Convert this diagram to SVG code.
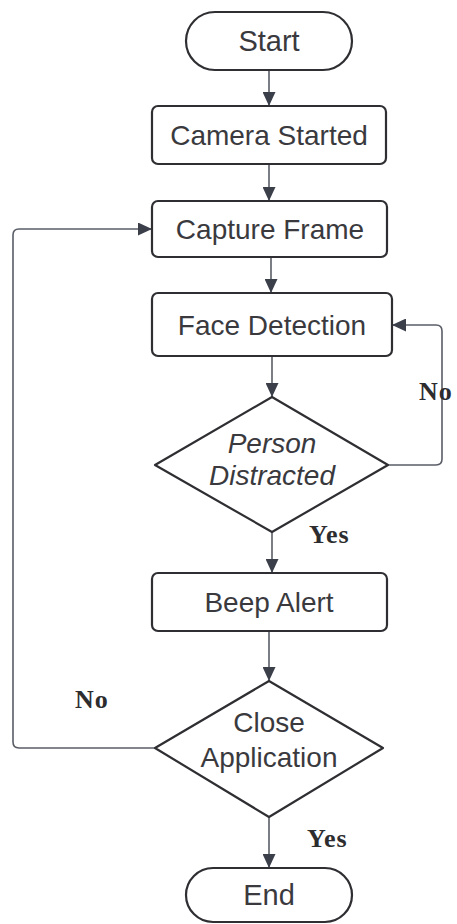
<svg xmlns="http://www.w3.org/2000/svg" width="457" height="924" viewBox="0 0 457 924">
<defs>
<marker id="ah" markerUnits="userSpaceOnUse" markerWidth="14" markerHeight="13" viewBox="0 0 14 13" refX="14" refY="6.5" orient="auto">
<path d="M0,0 L14,6.5 L0,13 Z" fill="#3b3f4a"/>
</marker>
<style>
.box{fill:#fff;stroke:#2f2f33;stroke-width:2.2}
.t{font-family:"Liberation Sans",Arial,sans-serif;font-size:28px;fill:#3a3a3e;text-anchor:middle}
.big{font-size:29px}
.ti{font-style:italic}
.lbl{font-family:"Liberation Serif","Times New Roman",serif;font-size:26px;font-weight:bold;fill:#2d2d30;letter-spacing:1px}
.c{fill:none;stroke:#5a5d66;stroke-width:1.6}
</style>
</defs>
<rect width="457" height="924" fill="#fff"/>
<g id="connectors">
<line class="c" x1="269" y1="70" x2="269" y2="106" marker-end="url(#ah)"/>
<line class="c" x1="269" y1="164" x2="269" y2="201" marker-end="url(#ah)"/>
<line class="c" x1="271" y1="257" x2="271" y2="293" marker-end="url(#ah)"/>
<line class="c" x1="272" y1="356" x2="272" y2="397" marker-end="url(#ah)"/>
<line class="c" x1="272" y1="532" x2="272" y2="573" marker-end="url(#ah)"/>
<line class="c" x1="269" y1="631" x2="269" y2="681" marker-end="url(#ah)"/>
<line class="c" x1="269" y1="817" x2="269" y2="868" marker-end="url(#ah)"/>
<path class="c" d="M388,465 H436 Q442,465 442,459 V331 Q442,325 436,325 H392" marker-end="url(#ah)"/>
<path class="c" d="M155,748 H19 Q13,748 13,742 V235 Q13,229 19,229 H152" marker-end="url(#ah)"/>
</g>
<g id="start">
<rect class="box" x="186" y="12" width="166" height="58" rx="29"/>
<text class="t big" x="269" y="51">Start</text>
</g>
<g id="camera">
<rect class="box" x="152" y="106" width="234" height="58" rx="6"/>
<text class="t" x="269" y="145">Camera Started</text>
</g>
<g id="capture">
<rect class="box" x="152" y="201" width="235" height="56" rx="6"/>
<text class="t" x="270" y="239">Capture Frame</text>
</g>
<g id="face">
<rect class="box" x="152" y="293" width="240" height="63" rx="6"/>
<text class="t" x="272" y="335">Face Detection</text>
</g>
<g id="distracted">
<path class="box" d="M272,397 L388,465 L272,532 L155,465 Z" stroke-linejoin="round"/>
<text class="t ti" x="272" y="453">Person</text>
<text class="t ti" x="272" y="485">Distracted</text>
</g>
<g id="beep">
<rect class="box" x="152" y="573" width="235" height="58" rx="6"/>
<text class="t" x="269" y="612">Beep Alert</text>
</g>
<g id="close">
<path class="box" d="M269,681 L383,748 L269,817 L155,748 Z" stroke-linejoin="round"/>
<text class="t" x="269" y="732">Close</text>
<text class="t" x="269" y="767">Application</text>
</g>
<g id="end">
<rect class="box" x="186" y="868" width="166" height="54" rx="27"/>
<text class="t big" x="269" y="905">End</text>
</g>
<g id="labels">
<text class="lbl" x="419" y="400">No</text>
<text class="lbl" x="309" y="543">Yes</text>
<text class="lbl" x="75" y="708">No</text>
<text class="lbl" x="307" y="847">Yes</text>
</g>
</svg>
